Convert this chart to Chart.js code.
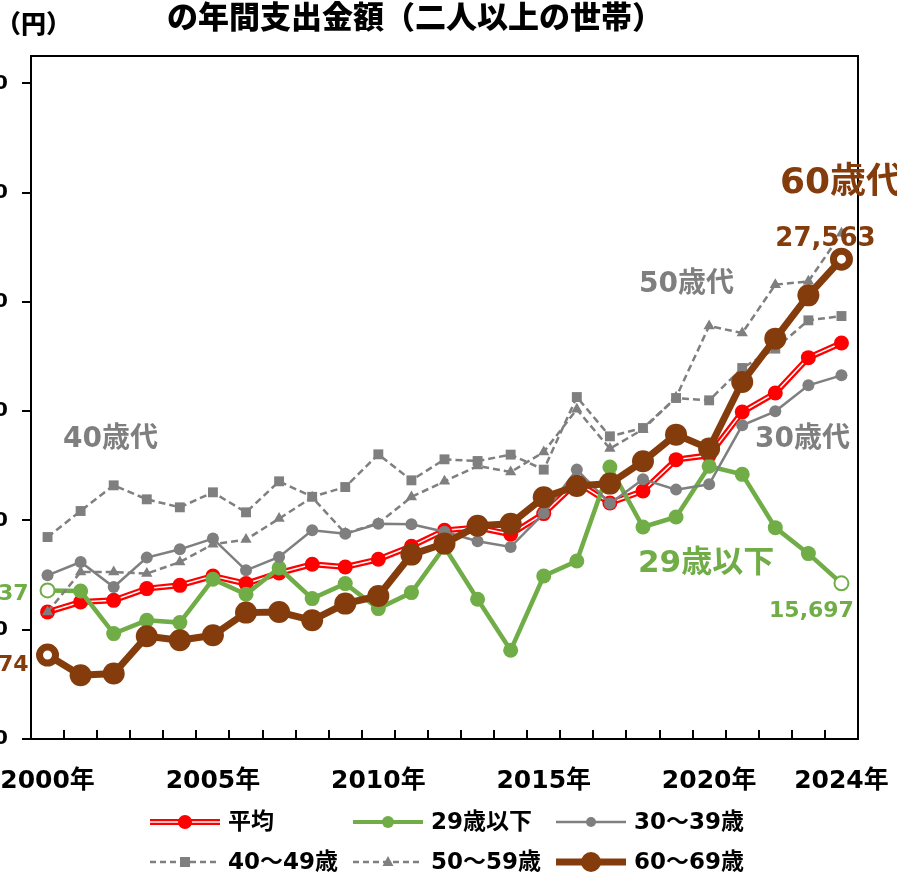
<!DOCTYPE html>
<html>
<head>
<meta charset="utf-8">
<script src="https://cdn.jsdelivr.net/npm/chart.js@4.4.1/dist/chart.umd.min.js"></script>
<style>
  html, body { margin: 0; padding: 0; background: #fff; overflow: hidden; }
  #wrap { position: relative; width: 897px; height: 873px; overflow: hidden; }
  #chart { position: absolute; left: -70px; top: 0; }
</style>
</head>
<body>
<div id="wrap"><canvas id="chart" width="967" height="873" style="width:967px;height:873px"></canvas></div>
<script>
  // ── DATA ──
  const years = [2000, 2001, 2002, 2003, 2004, 2005, 2006, 2007, 2008, 2009, 2010, 2011, 2012,
                 2013, 2014, 2015, 2016, 2017, 2018, 2019, 2020, 2021, 2022, 2023, 2024];
  const labelYears = [2000, 2005, 2010, 2015, 2020, 2024];
  const yTicks = [10000, 14000, 18000, 22000, 26000, 30000, 34000];

  const avg = [14648, 15014, 15076, 15505, 15625, 15966, 15688, 16076, 16394, 16295, 16577, 17053, 17638,
               17737, 17492, 18250, 19395, 18638, 19077, 20226, 20383, 21968, 22664, 23959, 24494];
  const age29 = [15437, 15417, 13858, 14344, 14260, 15845, 15296, 16259, 15139, 15688, 14773, 15358, 17027,
                 15113, 13246, 15966, 16515, 19955, 17759, 18125, 19981, 19688, 17737, 16786, 15697];
  const age30 = [15991, 16478, 15563, 16639, 16943, 17335, 16174, 16661, 17638, 17510, 17876, 17858, 17584,
                 17236, 17027, 18261, 19860, 18616, 19505, 19128, 19322, 21481, 21994, 22945, 23311];
  const age40 = [17393, 18345, 19285, 18773, 18480, 19029, 18297, 19432, 18865, 19223, 20420, 19468, 20237,
                 20175, 20409, 19860, 22517, 21079, 21383, 22481, 22396, 23579, 24289, 25324, 25482];
  const age50 = [14648, 16112, 16112, 16054, 16478, 17126, 17298, 18067, 18846, 17529, 17895, 18857, 19432,
                 19992, 19772, 20504, 22067, 20629, 21335, 22506, 25116, 24860, 26631, 26752, 28509];
  const age60 = [13074, 12331, 12394, 13759, 13612, 13795, 14626, 14648, 14344, 14956, 15234, 16749, 17152,
                 17803, 17876, 18846, 19260, 19348, 20164, 21141, 20629, 23066, 24655, 26239, 27563];

  const RED = '#ff0000', GREEN = '#70ad47', GRAY = '#7f7f7f', BROWN = '#843c0c';
  const SHIFT = 70; // canvas is shifted left, left part of the chart is cut off
  const FONT = '"DejaVu Sans", "Noto Sans CJK JP", sans-serif';
  const last = years.length - 1;
  const isEnd = i => i === 0 || i === last;

  // ── DATASETS ──
  const datasets = [
    { data: avg, borderColor: RED, borderWidth: 6, pointRadius: 0, order: 10 },
    { data: avg, borderColor: '#fff', borderWidth: 1.5, pointRadius: 0, order: 9 },
    { data: avg, showLine: false, pointRadius: 7.5, pointBackgroundColor: RED, pointBorderWidth: 0, order: 8 },
    {
      data: age29, borderColor: GREEN, borderWidth: 4.5, order: 7,
      pointRadius: c => isEnd(c.dataIndex) ? 7 : 7.5,
      pointBackgroundColor: c => isEnd(c.dataIndex) ? '#fff' : GREEN,
      pointBorderColor: GREEN,
      pointBorderWidth: c => isEnd(c.dataIndex) ? 2 : 0
    },
    { data: age30, borderColor: GRAY, borderWidth: 2.5, pointRadius: 6, pointBackgroundColor: GRAY, pointBorderWidth: 0, order: 6 },
    { data: age40, borderColor: GRAY, borderWidth: 2.5, borderDash: [7, 4], pointStyle: 'rect', pointRadius: 7,
      pointBackgroundColor: GRAY, pointBorderWidth: 0, order: 5 },
    { data: age50, borderColor: GRAY, borderWidth: 2.5, borderDash: [7, 4], pointStyle: 'triangle', pointRadius: 6.5,
      pointBackgroundColor: GRAY, pointBorderWidth: 0, order: 4 },
    {
      data: age60, borderColor: BROWN, borderWidth: 7, order: 1,
      pointRadius: c => isEnd(c.dataIndex) ? 8 : 11,
      pointBackgroundColor: c => isEnd(c.dataIndex) ? '#fff' : BROWN,
      pointBorderColor: BROWN,
      pointBorderWidth: c => isEnd(c.dataIndex) ? 7 : 0
    }
  ];

  // ── LEGEND ITEMS ──
  const legendItems = [
    { label: '平均', x: 150, y: 822, kind: 'avg' },
    { label: '29歳以下', x: 353, y: 822, color: GREEN, width: 4, r: 6, style: 'circle' },
    { label: '30～39歳', x: 556, y: 822, color: GRAY, width: 2.5, r: 5, style: 'circle' },
    { label: '40～49歳', x: 150, y: 862, color: GRAY, width: 2.5, r: 6, style: 'rect', dash: [6, 4] },
    { label: '50～59歳', x: 353, y: 862, color: GRAY, width: 2.5, r: 6, style: 'triangle', dash: [6, 4] },
    { label: '60～69歳', x: 556, y: 862, color: BROWN, width: 7, r: 10, style: 'circle' }
  ];

  const decor = {
    id: 'decor',
    afterDraw(chart) {
      const ctx = chart.ctx;
      const a = chart.chartArea;
      ctx.save();
      // frame
      ctx.strokeStyle = '#000';
      ctx.lineWidth = 2;
      ctx.strokeRect(a.left, a.top, a.right - a.left, a.bottom - a.top);

      // title (second line only, first line is cut off)
      ctx.fillStyle = '#000';
      ctx.textBaseline = 'middle';
      ctx.textAlign = 'left';
      ctx.font = '900 31px "Noto Sans CJK JP", sans-serif';
      ctx.fillText('の年間支出金額（二人以上の世帯）', 167 + SHIFT, 16);
      ctx.font = '900 25px "Noto Sans CJK JP", sans-serif';
      ctx.fillText('（円）', -4 + SHIFT, 23);

      // group labels
      const txt = (s, x, y, color, size) => {
        ctx.font = 'bold ' + size + 'px ' + FONT;
        ctx.fillStyle = color;
        ctx.fillText(s, x + SHIFT, y);
      };
      ctx.textAlign = 'left';
      txt('40歳代', 63, 440, GRAY, 28);
      txt('50歳代', 639, 285, GRAY, 28);
      txt('30歳代', 755, 440, GRAY, 28);
      txt('29歳以下', 638, 564, GREEN, 31);
      txt('60歳代', 780, 184, BROWN, 36);

      // value labels at first and last points
      const fmt = v => v.toLocaleString('en-US');
      const p29 = chart.getDatasetMeta(3).data;
      const p60 = chart.getDatasetMeta(7).data;
      ctx.font = 'bold 22px ' + FONT;
      ctx.textAlign = 'right';
      ctx.fillStyle = GREEN;
      ctx.fillText(fmt(age29[0]), p29[0].x - 19, p29[0].y + 4);
      ctx.fillStyle = BROWN;
      ctx.fillText(fmt(age60[0]), p60[0].x - 19, p60[0].y + 10);
      ctx.textAlign = 'center';
      ctx.fillStyle = GREEN;
      ctx.fillText(fmt(age29[last]), p29[last].x - 30, p29[last].y + 28);
      ctx.fillStyle = BROWN;
      ctx.font = 'bold 26px ' + FONT;
      ctx.fillText(fmt(age60[last]), p60[last].x - 16, p60[last].y - 20);

      // legend
      legendItems.forEach(it => {
        const x1 = it.x + SHIFT, x2 = x1 + 70, y = it.y, cx = (x1 + x2) / 2;
        if (it.kind === 'avg') {
          ctx.setLineDash([]);
          ctx.strokeStyle = RED; ctx.lineWidth = 6;
          ctx.beginPath(); ctx.moveTo(x1, y); ctx.lineTo(x2, y); ctx.stroke();
          ctx.strokeStyle = '#fff'; ctx.lineWidth = 1.5;
          ctx.beginPath(); ctx.moveTo(x1, y); ctx.lineTo(x2, y); ctx.stroke();
          ctx.fillStyle = RED;
          ctx.beginPath(); ctx.arc(cx, y, 7, 0, Math.PI * 2); ctx.fill();
        } else {
          ctx.setLineDash(it.dash || []);
          ctx.strokeStyle = it.color; ctx.lineWidth = it.width;
          ctx.beginPath(); ctx.moveTo(x1, y); ctx.lineTo(x2, y); ctx.stroke();
          ctx.setLineDash([]);
          ctx.fillStyle = it.color;
          ctx.beginPath();
          if (it.style === 'rect') ctx.rect(cx - 5, y - 5, 10, 10);
          else if (it.style === 'triangle') { ctx.moveTo(cx, y - 6); ctx.lineTo(cx + 5.5, y + 4); ctx.lineTo(cx - 5.5, y + 4); ctx.closePath(); }
          else ctx.arc(cx, y, it.r, 0, Math.PI * 2);
          ctx.fill();
        }
        ctx.font = 'bold 23px ' + FONT;
        ctx.fillStyle = '#000';
        ctx.textAlign = 'left';
        ctx.fillText(it.label, x2 + 8, y + 1);
      });
      ctx.restore();
    }
  };

  // ── CHART ──
  new Chart(document.getElementById('chart').getContext('2d'), {
    type: 'line',
    data: { labels: years, datasets },
    options: {
      responsive: false,
      animation: false,
      layout: { padding: { top: 56, right: 39, left: 0, bottom: 0 } },
      elements: { line: { tension: 0 } },
      plugins: { legend: { display: false }, title: { display: false }, tooltip: { enabled: false } },
      scales: {
        x: {
          type: 'category',
          offset: true,
          grid: { display: true, drawOnChartArea: false, drawTicks: true, tickLength: -9, color: '#000', lineWidth: 2, offset: true },
          border: { display: true, color: '#000', width: 2 },
          ticks: {
            autoSkip: false, maxRotation: 0, minRotation: 0, padding: 36, color: '#000',
            font: { family: FONT, size: 25, weight: 'bold' },
            callback: function (v, i) { return labelYears.includes(years[i]) ? years[i] + '年' : ''; }
          },
          afterFit: s => { s.height = 134; s.paddingLeft = 0; s.paddingRight = 0; }
        },
        y: {
          min: 10000, max: 35000,
          afterBuildTicks: s => { s.ticks = yTicks.map(v => ({ value: v })); },
          grid: { drawOnChartArea: false, drawTicks: true, tickLength: 9, color: '#000', lineWidth: 2 },
          border: { display: true, color: '#000', width: 2 },
          ticks: { padding: 14, color: '#000', font: { family: FONT, size: 20, weight: 'bold' },
                   callback: v => v.toLocaleString('en-US') },
          afterFit: s => { s.width = 101; s.paddingTop = 0; s.paddingBottom = 0; }
        }
      }
    },
    plugins: [decor]
  });
</script>
</body>
</html>
